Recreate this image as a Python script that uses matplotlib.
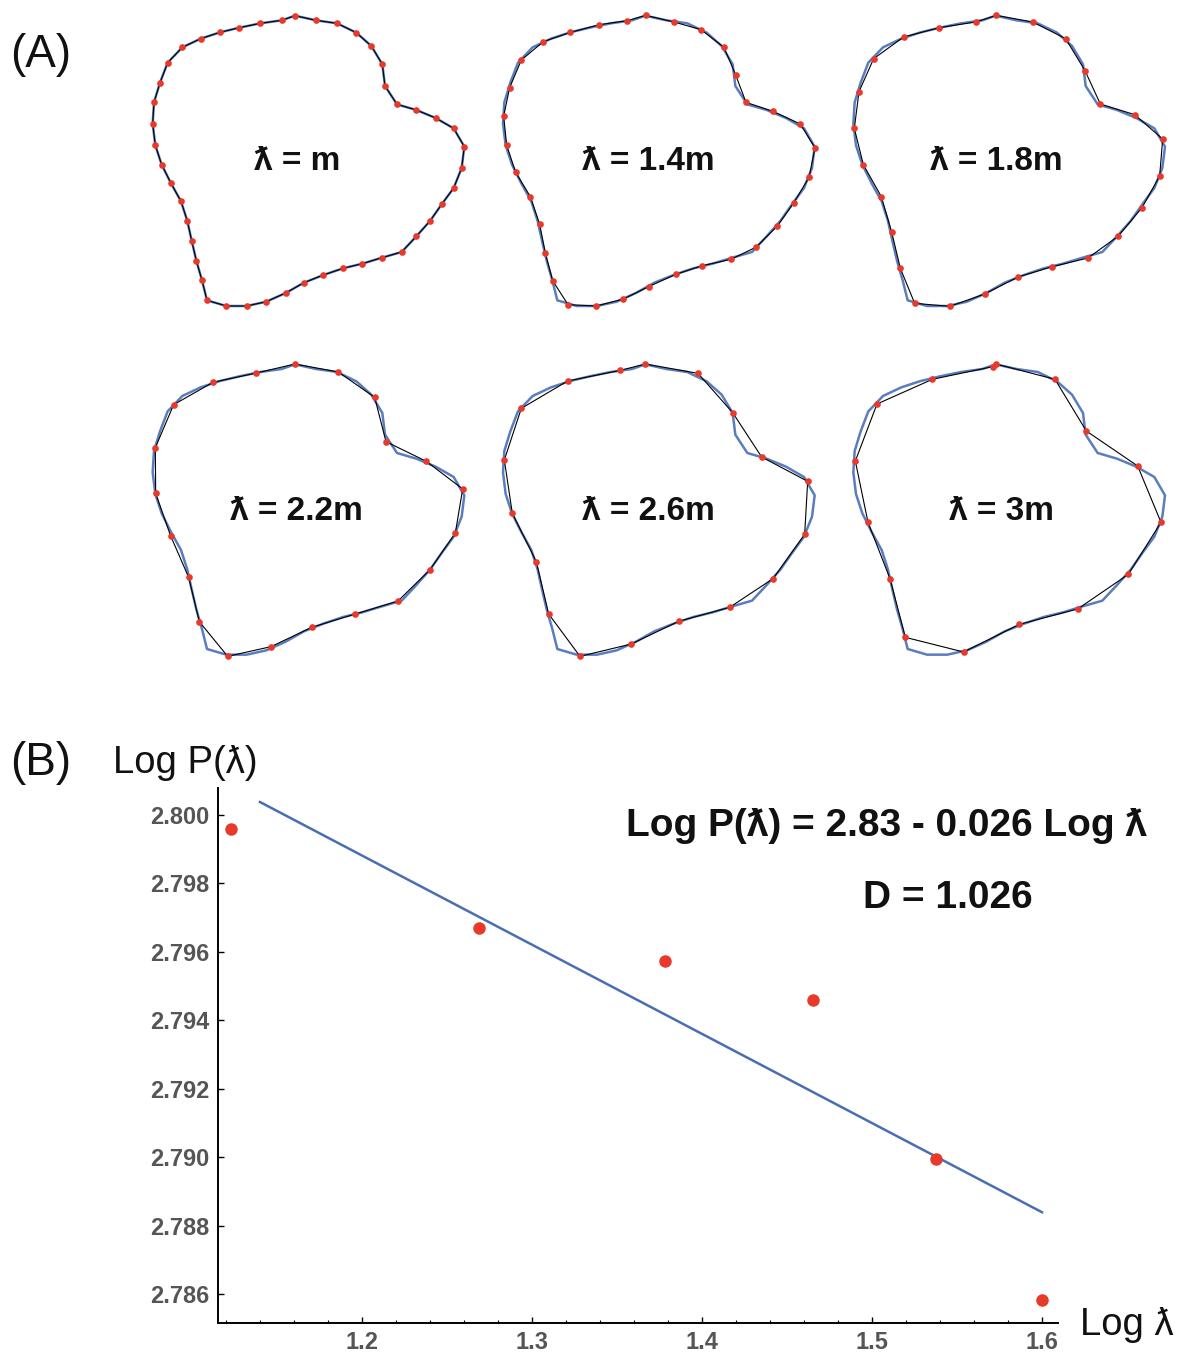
import matplotlib
matplotlib.use("Agg")
import matplotlib.pyplot as plt
import numpy as np

plt.rcParams['font.family'] = ['Liberation Sans', 'DejaVu Sans']

# ---------------- Part A data (outline coordinates in panel units) ----------------
outline_x = [465, 528, 591, 649, 694, 727, 735, 771, 829, 887, 941, 973, 965, 941, 905, 870,
             829, 785, 726, 667, 609, 550, 492, 437, 379, 320, 259, 201, 186, 169, 155, 142,
             123, 93, 65, 46, 38, 42, 60, 83, 127, 182, 240, 298, 361, 425]
outline_y = [47, 61, 70, 98, 138, 193, 258, 313, 330, 354, 385, 440, 504, 564, 613, 663,
             709, 756, 773, 791, 805, 825, 848, 879, 905, 918, 918, 901, 841, 782, 722, 663,
             604, 550, 494, 436, 371, 307, 248, 188, 142, 116, 97, 83, 70, 61]

pts_m_x = outline_x
pts_m_y = outline_y

pts_14_x = [467, 552, 633, 702, 737, 768, 849, 931, 975, 957, 911, 862, 799, 723, 637, 557, 476,
            400, 319, 234, 188, 166, 149, 121, 77, 50, 41, 59, 94, 160, 241, 328, 412]
pts_14_y = [46, 66, 89, 142, 225, 307, 334, 372, 444, 532, 609, 678, 741, 778, 797, 823, 860,
            897, 918, 914, 842, 759, 673, 590, 517, 436, 348, 263, 180, 125, 97, 74, 62]

pts_18_x = [469, 578, 677, 735, 781, 884, 968, 959, 906, 834, 744, 637, 534, 434, 330, 224, 181,
            155, 124, 70, 43, 57, 101, 191, 298, 407]
pts_18_y = [46, 66, 116, 212, 312, 344, 417, 528, 623, 709, 774, 800, 831, 882, 919, 910, 805,
            696, 590, 494, 385, 275, 176, 111, 83, 66]

pts_22_x = [465, 595, 704, 738, 859, 968, 946, 870, 774, 646, 515, 393, 263, 178, 146, 92, 47,
            46, 101, 219, 349]
pts_22_y = [42, 66, 142, 275, 334, 417, 549, 659, 753, 792, 832, 890, 919, 815, 682, 558, 430,
            293, 164, 97, 69]

pts_26_x = [466, 624, 728, 815, 953, 944, 849, 719, 566, 424, 270, 176, 139, 67, 43, 94, 233, 391]
pts_26_y = [42, 70, 188, 321, 394, 553, 686, 772, 814, 882, 919, 792, 635, 490, 330, 175, 93, 61]

pts_3_x = [468, 645, 739, 893, 963, 865, 713, 538, 371, 196, 150, 84, 46, 111, 277, 458]
pts_3_y = [42, 88, 243, 348, 517, 673, 777, 823, 906, 862, 686, 517, 333, 162, 88, 50]

panel_labels = ["ƛ = m", "ƛ = 1.4m", "ƛ = 1.8m", "ƛ = 2.2m", "ƛ = 2.6m", "ƛ = 3m"]

# ---------------- Part B data ----------------
log_lambda = [1.1229, 1.2688, 1.3782, 1.4653, 1.5376, 1.6000]
log_P = [2.79959, 2.79670, 2.79573, 2.79459, 2.78994, 2.78582]
fit_intercept = 2.8301
fit_slope = -0.02607
fit_range = [1.14, 1.60]

# ---------------- Figure ----------------
W, H = 1197, 1356
fig = plt.figure(figsize=(W / 100, H / 100), dpi=100)
fig.patch.set_facecolor('white')

def px_axes(x0, y0, w, h):
    return fig.add_axes([x0 / W, 1 - (y0 + h) / H, w / W, h / H])

panels = [
    (pts_m_x, pts_m_y), (pts_14_x, pts_14_y), (pts_18_x, pts_18_y),
    (pts_22_x, pts_22_y), (pts_26_x, pts_26_y), (pts_3_x, pts_3_y),
]
origins = [(140, 0), (490, 0), (840, 0), (140, 350), (490, 350), (840, 350)]
outline_shift = [(0, 0), (1, 0), (2, 0), (0, -4), (1, -4), (2, -4)]
label_x = [472, 475, 470, 468, 474, 484]

blue = '#5a7dbf'
red = '#e8392a'

for i, ((px, py), (ox, oy)) in enumerate(zip(panels, origins)):
    ax = px_axes(ox, oy, 340, 320)
    dx, dy = outline_shift[i]
    bx = np.array(outline_x + outline_x[:1]) + dx
    by = np.array(outline_y + outline_y[:1]) + dy
    ax.plot(bx, by, color=blue, lw=1.8, zorder=1, solid_joinstyle='round')
    cx = list(px) + [px[0]]
    cy = list(py) + [py[0]]
    ax.plot(cx, cy, color='black', lw=0.8, zorder=2)
    ax.plot(px, py, 'o', color=red, ms=4.8, mec='none', zorder=3)
    ax.text(label_x[i], 485, panel_labels[i], ha='center', va='center',
            fontsize=24, fontweight='bold', color='#111111')
    ax.set_xlim(0, 1020)
    ax.set_ylim(960, 0)
    ax.axis('off')

fig.text(41 / W, 1 - 55 / H, "(A)", ha='center', va='center', fontsize=33, color='#111111')
fig.text(41 / W, 1 - 763 / H, "(B)", ha='center', va='center', fontsize=33, color='#111111')

# ---------------- Part B ----------------
axb = px_axes(218, 788, 840, 535)
axb.set_xlim(1.11529, 1.60941)
axb.set_ylim(2.78515, 2.80079)
fx = np.array(fit_range)
axb.plot(fx, fit_intercept + fit_slope * fx, color='#4a6db3', lw=1.8, zorder=2)
axb.plot(log_lambda, log_P, 'o', color=red, ms=9, mec='none', zorder=3, clip_on=False)

for s in ['top', 'right']:
    axb.spines[s].set_visible(False)
for s in ['left', 'bottom']:
    axb.spines[s].set_linewidth(1.4)
    axb.spines[s].set_color('black')

xt = [1.2, 1.3, 1.4, 1.5, 1.6]
yt = [2.786, 2.788, 2.790, 2.792, 2.794, 2.796, 2.798, 2.800]
axb.set_xticks(xt)
axb.set_xticklabels([f"{v:.1f}" for v in xt])
axb.set_yticks(yt)
axb.set_yticklabels([f"{v:.3f}" for v in yt])
axb.set_xticks(np.arange(1.12, 1.61, 0.02), minor=True)
axb.tick_params(axis='both', which='major', direction='in', length=4, width=1,
                labelsize=17, labelcolor='#555555', pad=6)
axb.tick_params(axis='x', which='minor', direction='in', length=2.5, width=0.8)
for lab in axb.get_xticklabels() + axb.get_yticklabels():
    lab.set_fontweight('bold')
axb.patch.set_alpha(0)

fig.text(113 / W, 1 - 763 / H, "Log P(ƛ)", ha='left', va='center', fontsize=27.5, color='#111111')
fig.text(1080 / W, 1 - 1325 / H, "Log ƛ", ha='left', va='center', fontsize=27.5, color='#111111')
fig.text(887 / W, 1 - 826 / H, "Log P(ƛ) = 2.83 - 0.026 Log ƛ", ha='center', va='center',
         fontsize=28, fontweight='bold', color='#111111')
fig.text(948 / W, 1 - 898 / H, "D = 1.026", ha='center', va='center',
         fontsize=28, fontweight='bold', color='#111111')

fig.savefig("out.png", dpi=100, facecolor='white')
